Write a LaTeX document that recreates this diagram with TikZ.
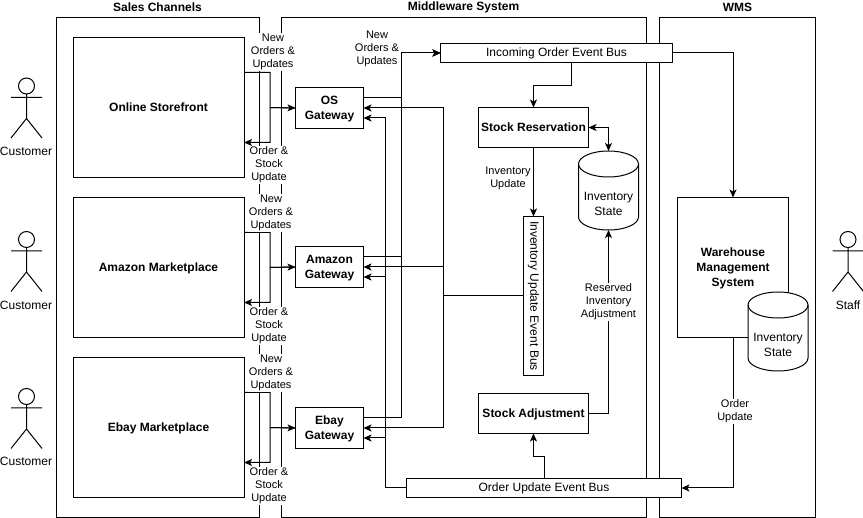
\documentclass[tikz,border=0pt]{standalone}
\usepackage{fontspec}
\setmainfont{Liberation Sans}
\usetikzlibrary{arrows.meta, calc, positioning}
\tikzset{
  >={Stealth[length=8pt, width=7pt, inset=2pt]},
  every picture/.style={line cap=butt, line join=miter, line width=1pt},
  region/.style={draw, minimum width=#1, inner sep=0pt, outer sep=0pt, minimum height=500pt},
  head/.style={font=\fontsize{12}{14}\bfseries\selectfont, inner sep=0pt},
  channel/.style={draw, minimum width=171pt, minimum height=140pt, inner sep=0pt, outer sep=0pt,
    text depth=0pt, font=\fontsize{12}{15}\bfseries\selectfont, align=center},
  gateway/.style={draw, minimum width=68pt, minimum height=41pt, inner sep=0pt, outer sep=0pt,
    text depth=-3pt, font=\fontsize{12}{15}\bfseries\selectfont, align=center},
  service/.style={draw, minimum width=110pt, minimum height=40pt, inner sep=0pt, outer sep=0pt,
    text depth=0pt, font=\fontsize{12}{15}\bfseries\selectfont, align=center},
  bus/.style={draw, fill=white, minimum height=19pt, inner sep=0pt, outer sep=0pt,
    font=\fontsize{12}{15}\selectfont},
  store/.style={minimum width=60pt, minimum height=79pt, inner sep=0pt, outer sep=0pt},
  storetext/.style={inner sep=0pt, align=center, font=\fontsize{12}{15}\selectfont},
  note/.style={fill=white, inner sep=1pt, align=center, font=\fontsize{11}{13}\selectfont},
  who/.style={inner sep=0pt, font=\fontsize{12}{14}\selectfont},
  % stick figure, hung from the centre of its head
  actor/.pic={
    \draw (0,0) circle (8pt);
    \draw (0,8) -- (0,32.5) (-15.5,11.5) -- (15.5,11.5) (-15.5,52) -- (0,32.5) -- (15.5,52);
  },
  % database drum, about its centre
  drum/.pic={
    \draw[fill=white] (-30,-26.5) -- (-30,26.5) arc[start angle=180, end angle=360, x radius=30pt, y radius=13pt]
      -- (30,-26.5) arc[start angle=0, end angle=180, x radius=30pt, y radius=13pt] -- cycle;
    \draw (-30,-26.5) arc[start angle=180, end angle=360, x radius=30pt, y radius=13pt];
  },
}
\begin{document}
\begin{tikzpicture}[x=1pt, y=-1pt]
  \useasboundingbox (0,0) rectangle (863,518);
  % ---------- the three regions
  \node[region=203pt] (sales) at (158,267.5) {};
  \node[region=365pt] (middle) at (464,267.5) {};
  \node[region=156pt] (wms) at (737.5,267.5) {};
  \node[head] (salesT) at (157.5,7) {Sales Channels};
  \node[head] (middleT) at (463.5,7) {Middleware System};
  \node[head] (wmsT) at (737.5,7) {WMS};
  % ---------- actors
  \pic at (26.5,86) {actor};
  \pic at (26.5,239.5) {actor};
  \pic at (26.5,396.5) {actor};
  \pic at (848,239.5) {actor};
  \node[who] (cust1) at (26,151) {Customer};
  \node[who] (cust2) at (26,305) {Customer};
  \node[who] (cust3) at (26,461.5) {Customer};
  \node[who] (staff) at (848,305) {Staff};
  % ---------- channels and gateways
  \node[channel] (online) at (158.5,107.5) {Online Storefront};
  \node[channel] (amazon) at (158.5,267.5) {Amazon Marketplace};
  \node[channel] (ebay) at (158.5,427.5) {Ebay Marketplace};
  \node[gateway] (osgw) at (329.5,108) {OS\\Gateway};
  \node[gateway] (amgw) at (329.5,267) {Amazon\\Gateway};
  \node[gateway] (ebgw) at (329.5,428) {Ebay\\Gateway};
  % ---------- middleware
  \node[service] (reserve) at (533.5,127.5) {Stock Reservation};
  \node[service] (adjust) at (533.5,413.5) {Stock Adjustment};
  \node[bus, minimum width=232pt] (inbus) at (556.5,53) {Incoming Order Event Bus};
  \node[bus, minimum width=275pt] (outbus) at (544,488) {Order Update Event Bus};
  \node[bus, minimum width=159pt, minimum height=20pt, rotate=-90] (invbus) at (533.5,296) {Inventory Update Event Bus};
  \pic at (608.5,190.5) {drum};
  \node[store] (invstate) at (608.5,190.5) {};
  \node[storetext] (invstateT) at (608.5,204) {Inventory\\State};
  % ---------- wms
  \node[channel, minimum width=111pt] (whouse) at (733,267.5) {Warehouse\\Management\\System};
  \pic at (778,331.5) {drum};
  \node[store] (wmsstate) at (778,331.5) {};
  \node[storetext] (wmsstateT) at (778,345) {Inventory\\State};
  \coordinate (inturn) at ($(inbus.west)+(-39,0)$);
  % ---------- channels to gateways and back, gateways to and from the buses
  \foreach \ch/\gw in {online/osgw, amazon/amgw, ebay/ebgw}{
    \draw[->] ($(\ch.east)+(0,-35)$) -| ($(\ch.east)+(26,0)$) -- (\gw.west);
    \draw[->] (\gw.west) -- ($(\ch.east)+(26,0)$) |- ($(\ch.east)+(0,35)$);
    \draw[->] ($(\gw.east)+(0,-10)$) -| (inturn) -- (inbus.west);
    \draw[->] (invbus.south) -| ($(\gw.east)+(80,0)$) -- (\gw.east);
    \draw[->] (outbus.west) -| ($(\gw.east)+(22,10)$) -- ($(\gw.east)+(0,10)$);
  }
  % ---------- middleware flows
  \draw[->] ($(inbus.south)+(15,0)$) -- ++(0,23) -| (reserve.north);
  \draw[->] (inbus.east) -| (whouse.north);
  \draw[<->] (reserve.east) -| (invstate.north);
  \draw[->] (reserve.south) -- (invbus.west);
  \draw[->] (adjust.east) -| (invstate.south);
  \draw[->] (outbus.north) -- ++(0,-22) -| (adjust.south);
  \draw[->] (whouse.south) |- (outbus.east);
  % ---------- labels
  \node[note] (new1) at (273,52) {New\\Orders \&\\Updates};
  \node[note] (new2) at (271,213) {New\\Orders \&\\Updates};
  \node[note] (new3) at (271,373) {New\\Orders \&\\Updates};
  \node[note] (stock1) at (269,165) {Order \&\\Stock\\Update};
  \node[note] (stock2) at (269,326) {Order \&\\Stock\\Update};
  \node[note] (stock3) at (269,486) {Order \&\\Stock\\Update};
  \node[note] (new4) at (377,49) {New\\Orders \&\\Updates};
  \node[note] (invup) at (508,178.5) {Inventory\\Update};
  \node[note] (resadj) at (608.5,302) {Reserved\\Inventory\\Adjustment};
  \node[note] (ordup) at (735,411.5) {Order\\Update};
\end{tikzpicture}
\end{document}
